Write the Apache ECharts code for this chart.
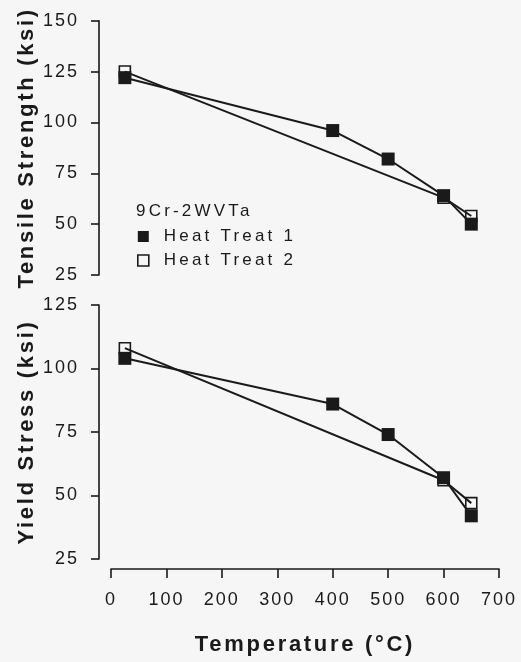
<!DOCTYPE html>
<html>
<head>
<meta charset="utf-8">
<script src="https://cdn.jsdelivr.net/npm/echarts@6/dist/echarts.min.js"></script>
<style>
  html, body { margin: 0; padding: 0; background: #f6f6f6; }
  #chart { width: 521px; height: 662px; }
</style>
</head>
<body>
<div id="chart"></div>
<script>
// Temperatures (°C) at which each heat treatment was tested
const tempsHT1 = [25, 400, 500, 600, 650];
const tempsHT2 = [25, 600, 650];

// Ultimate tensile strength (ksi)
const tensileHT1 = [122, 96, 82, 64, 50];
const tensileHT2 = [125, 63, 54];

// 0.2% yield stress (ksi)
const yieldHT1 = [104, 86, 74, 57, 42];
const yieldHT2 = [108, 56, 47];

const alloyName = '9Cr-2WVTa';
const seriesNames = ['Heat Treat 1', 'Heat Treat 2'];

const pairs = (xs, ys) => xs.map((x, i) => [x, ys[i]]);

const FONT = "'Liberation Sans', Arial, sans-serif";
const INK = '#1a1a1a';

// Wide tracking for the typewriter-plot look: canvas letter spacing by font size
(function () {
  const proto = CanvasRenderingContext2D.prototype;
  const origFillText = proto.fillText;
  const spacingFor = font =>
    /\b22px/.test(font) ? '2.7px' :
    /\b18px/.test(font) ? '2px' :
    /\b17px/.test(font) ? '3.2px' : '0px';
  proto.fillText = function (text, x, y, maxWidth) {
    if ('letterSpacing' in this) this.letterSpacing = spacingFor(this.font);
    return maxWidth === undefined
      ? origFillText.call(this, text, x, y)
      : origFillText.call(this, text, x, y, maxWidth);
  };
})();

const axisCommon = {
  axisLine: { show: true, onZero: false, lineStyle: { color: INK, width: 1.6 } },
  axisTick: { show: true, inside: false, length: 8, lineStyle: { color: INK, width: 1.6 } },
  splitLine: { show: false },
  nameTextStyle: { color: INK, fontSize: 22, fontWeight: 'bold', fontFamily: FONT }
};

const filledStyle = {
  type: 'line',
  symbol: 'rect',
  symbolSize: 13,
  clip: false,
  lineStyle: { color: INK, width: 2 },
  itemStyle: { color: INK },
  z: 3
};
const openStyle = {
  type: 'line',
  symbol: 'rect',
  symbolSize: 11,
  clip: false,
  lineStyle: { color: INK, width: 2 },
  itemStyle: { color: 'rgba(0,0,0,0)', borderColor: INK, borderWidth: 1.6 },
  z: 2
};

const chart = echarts.init(document.getElementById('chart'), null, { renderer: 'canvas' });

chart.setOption({
  backgroundColor: '#f6f6f6',
  animation: false,
  title: {
    text: alloyName,
    left: 136,
    top: 203,
    padding: 0,
    textStyle: { color: INK, fontSize: 17, fontWeight: 'normal', fontFamily: FONT }
  },
  legend: {
    orient: 'vertical',
    left: 137,
    top: 228,
    padding: 0,
    itemGap: 7,
    itemWidth: 11,
    itemHeight: 11,
    textStyle: { color: INK, fontSize: 17, fontFamily: FONT, padding: [0, 0, 0, 10] },
    data: [
      { name: seriesNames[0], icon: 'rect', itemStyle: { color: INK, borderWidth: 0 } },
      { name: seriesNames[1], icon: 'rect', itemStyle: { color: '#f6f6f6', borderColor: INK, borderWidth: 1.6 } }
    ]
  },
  grid: [
    { left: 111, width: 388, top: 20.7, height: 254.3 },
    { left: 111, width: 388, top: 305, height: 254 }
  ],
  xAxis: [
    { type: 'value', gridIndex: 0, min: 0, max: 700, interval: 100, show: false },
    Object.assign({}, axisCommon, {
      type: 'value', gridIndex: 1, min: 0, max: 700, interval: 100,
      position: 'bottom', offset: 10,
      axisTick: { show: true, inside: false, length: 9, lineStyle: { color: INK, width: 1.6 } },
      axisLabel: { color: INK, fontSize: 18, fontFamily: FONT, margin: 22 },
      name: 'Temperature (°C)', nameLocation: 'middle', nameGap: 65
    })
  ],
  yAxis: [
    Object.assign({}, axisCommon, {
      type: 'value', gridIndex: 0, min: 25, max: 150, interval: 25,
      position: 'left', offset: 12,
      axisLabel: { color: INK, fontSize: 18, fontFamily: FONT, margin: 20 },
      name: 'Tensile Strength (ksi)', nameLocation: 'middle', nameRotate: 90, nameGap: 60
    }),
    Object.assign({}, axisCommon, {
      type: 'value', gridIndex: 1, min: 25, max: 125, interval: 25,
      position: 'left', offset: 12,
      axisLabel: { color: INK, fontSize: 18, fontFamily: FONT, margin: 20 },
      name: 'Yield Stress (ksi)', nameLocation: 'middle', nameRotate: 90, nameGap: 60
    })
  ],
  series: [
    Object.assign({}, openStyle, { name: seriesNames[1], xAxisIndex: 0, yAxisIndex: 0, data: pairs(tempsHT2, tensileHT2) }),
    Object.assign({}, filledStyle, { name: seriesNames[0], xAxisIndex: 0, yAxisIndex: 0, data: pairs(tempsHT1, tensileHT1) }),
    Object.assign({}, openStyle, { name: seriesNames[1], xAxisIndex: 1, yAxisIndex: 1, data: pairs(tempsHT2, yieldHT2) }),
    Object.assign({}, filledStyle, { name: seriesNames[0], xAxisIndex: 1, yAxisIndex: 1, data: pairs(tempsHT1, yieldHT1) })
  ]
});
</script>
</body>
</html>
